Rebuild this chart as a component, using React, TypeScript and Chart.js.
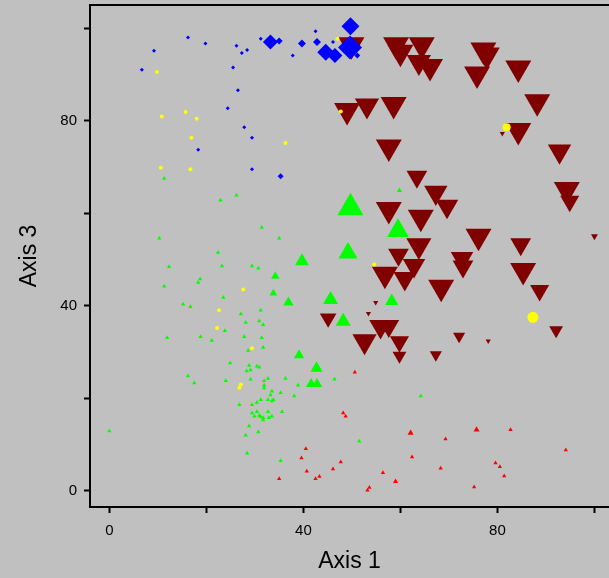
import { useEffect, useRef } from 'react';
import { Chart, registerables } from 'chart.js';

Chart.register(...registerables);

// Axis configuration
const xRange = [-4, 103];
const yRange = [-3.5, 105];
const tickValues = [0, 20, 40, 60, 80, 100];
const labeledTicks = [0, 40, 80];
const xAxisTitle = 'Axis 1';
const yAxisTitle = 'Axis 3';

// Each point: [Axis 1, Axis 3, size]
const bluePoints: [number, number, number][] = [
  [16.2, 98.0, 2], [19.8, 96.7, 2], [9.2, 95.1, 2], [6.7, 91.0, 2], [26.2, 96.2, 2],
  [27.3, 94.6, 2], [28.4, 95.3, 2], [31.2, 97.7, 2], [25.5, 91.5, 2], [26.5, 86.6, 2],
  [24.4, 82.7, 2], [27.8, 78.6, 2], [29.4, 76.3, 2], [18.3, 73.7, 2], [29.4, 69.5, 2],
  [37.8, 94.1, 2], [42.5, 99.3, 2], [46.1, 97.0, 2], [51.1, 94.1, 3], [35.3, 68.0, 3],
  [33.2, 97.0, 7.5], [35.0, 97.2, 3.5], [39.7, 96.7, 4], [42.8, 97.0, 4], [49.7, 100.4, 9],
  [44.6, 94.8, 8.5], [46.5, 94.1, 7.5], [49.6, 95.8, 12],
];

const yellowPoints: [number, number, number][] = [
  [9.8, 90.5, 2], [10.8, 80.9, 2], [15.7, 81.9, 2], [18.0, 80.4, 2], [16.9, 76.3, 2],
  [10.6, 69.8, 2], [16.7, 69.5, 2], [36.3, 75.2, 2], [27.6, 43.5, 2], [22.6, 39.0, 2],
  [22.2, 35.2, 2], [29.4, 30.8, 2], [27.1, 23.0, 2], [26.8, 22.3, 2], [47.0, 97.7, 2],
  [47.7, 82.0, 2], [54.6, 48.9, 2], [81.9, 78.6, 4], [87.3, 37.5, 5.5],
];

const greenPoints: [number, number, number][] = [
  [11.3, 67.5, 2.5], [22.9, 62.8, 2.5], [26.2, 63.9, 2.5], [31.4, 56.9, 2.5], [10.3, 54.6, 2.5],
  [35.0, 54.6, 2.5], [22.4, 51.5, 2.5], [12.3, 48.4, 2.5], [23.2, 48.6, 2.5], [29.4, 48.6, 2.5],
  [30.7, 48.1, 2.5], [18.7, 45.8, 2.5], [18.3, 45.0, 2.5], [11.3, 44.2, 2.5], [23.5, 41.8, 2.5],
  [15.2, 40.3, 2.5], [16.7, 39.8, 2.5], [27.1, 38.2, 2.5], [31.2, 39.0, 2.5], [28.1, 36.4, 2.5],
  [30.9, 36.7, 2.5], [31.7, 35.9, 2.5], [23.8, 34.6, 2.5], [11.9, 33.1, 2.5], [18.8, 33.3, 2.5],
  [21.1, 32.5, 2.5], [27.8, 33.3, 2.5], [31.4, 33.1, 2.5], [31.7, 31.0, 2.5], [28.6, 30.3, 2.5],
  [24.9, 27.6, 2.5], [28.8, 27.1, 2.5], [28.3, 25.9, 2.5], [29.1, 26.1, 2.5], [30.4, 26.9, 2.5],
  [30.9, 26.7, 2.5], [16.2, 24.8, 2.5], [17.5, 23.3, 2.5], [24.0, 23.8, 2.5], [29.1, 24.1, 2.5],
  [31.9, 23.8, 2.5], [32.7, 24.3, 2.5], [36.3, 24.3, 2.5], [31.9, 22.8, 2.5], [31.9, 22.2, 2.5],
  [38.9, 22.8, 2.5], [33.5, 21.5, 2.5], [33.2, 20.7, 2.5], [35.3, 21.2, 2.5], [38.1, 20.5, 2.5],
  [26.8, 18.6, 2.5], [29.4, 18.6, 2.5], [30.4, 19.1, 2.5], [31.2, 19.7, 2.5], [32.7, 19.7, 2.5],
  [33.5, 19.4, 2.5], [33.8, 19.7, 2.5], [29.4, 16.8, 2.5], [30.4, 17.1, 2.5], [29.9, 16.1, 2.5],
  [30.9, 16.3, 2.5], [31.2, 16.0, 2.5], [31.7, 15.8, 2.5], [31.7, 15.3, 2.5], [32.7, 17.1, 2.5],
  [32.9, 15.8, 2.5], [33.5, 16.1, 2.5], [35.6, 17.1, 2.5], [28.8, 14.0, 2.5], [28.1, 12.0, 2.5],
  [30.7, 12.7, 2.5], [28.4, 8.1, 2.5], [35.3, 6.5, 2.5], [0.0, 12.9, 2.5], [46.4, 24.1, 2.5],
  [64.2, 20.5, 2.5], [51.5, 10.7, 2.5], [59.8, 64.9, 3],
  [33.8, 42.7, 4.5], [36.9, 40.7, 6], [39.1, 29.3, 6], [45.6, 41.3, 8.7], [48.2, 36.6, 8.7],
  [58.2, 41.0, 7.7], [42.7, 26.5, 7], [41.6, 23.1, 6], [42.8, 23.1, 6], [49.7, 61.2, 15],
  [59.5, 56.2, 12.5], [49.2, 51.4, 11], [39.7, 49.6, 8], [34.2, 46.4, 5],
];

const redPoints: [number, number, number][] = [
  [35.0, 2.6, 2.5], [39.6, 7.1, 2.5], [40.5, 9.1, 2.5], [40.7, 4.2, 2.5], [42.5, 2.6, 2.5],
  [43.3, 3.1, 2.5], [46.1, 4.7, 2.5], [47.7, 6.2, 2.5], [48.2, 16.8, 2.5], [48.7, 16.1, 2.5],
  [50.6, 25.6, 2.5], [53.2, 0.1, 2.5], [53.6, 0.7, 2.5], [56.4, 3.9, 2.5], [59.0, 2.0, 3],
  [62.1, 12.5, 3.5], [62.4, 7.3, 2.5], [68.3, 4.9, 2.5], [69.3, 11.2, 2.5], [75.2, 0.8, 2.5],
  [75.7, 13.2, 3.5], [79.6, 6.0, 2.5], [80.5, 5.2, 2.5], [81.4, 3.2, 2.5], [82.7, 13.2, 2.5],
  [94.1, 8.8, 2.5],
];

const darkRedPoints: [number, number, number][] = [
  [49.9, 96.4, 15], [59.1, 96.4, 15], [64.4, 96.4, 15], [60.0, 94.8, 15], [63.8, 92.7, 14],
  [66.1, 91.7, 15], [77.1, 95.3, 15], [77.8, 94.2, 15], [75.8, 90.1, 15], [84.3, 91.4, 15],
  [88.2, 84.1, 15], [84.3, 77.9, 15], [49.0, 82.2, 15], [53.1, 83.3, 14], [58.6, 83.5, 15],
  [57.6, 74.3, 15], [63.4, 67.9, 12], [67.3, 64.5, 13.5], [69.6, 61.5, 13], [57.6, 60.8, 15],
  [64.2, 59.1, 15], [92.8, 73.4, 13.5], [94.3, 65.1, 15], [94.9, 62.6, 11], [100.0, 55.0, 4],
  [76.1, 55.0, 15], [84.8, 53.3, 12], [72.7, 50.2, 13], [72.9, 48.5, 12], [85.3, 47.6, 15],
  [88.7, 43.3, 11], [92.1, 34.7, 8], [72.1, 33.4, 7], [78.1, 32.4, 3], [81.0, 77.2, 3],
  [59.6, 51.0, 12], [63.8, 53.0, 14.5], [62.8, 48.7, 13], [60.9, 45.9, 13], [56.8, 46.8, 15],
  [68.4, 44.0, 15], [54.9, 40.7, 3], [53.4, 38.3, 3], [45.1, 37.3, 9.6], [55.9, 35.5, 13],
  [57.6, 35.6, 12], [52.6, 32.3, 14], [59.8, 32.2, 11], [59.8, 29.2, 8], [67.3, 29.4, 7],
];

const FONT = '"Liberation Sans", Arial, Helvetica, sans-serif';

function makeSet(
  label: string,
  pts: [number, number, number][],
  color: string,
  style: string,
  rotation: number,
  order: number,
) {
  return {
    label,
    data: pts.map(([x, y]) => ({ x, y })),
    pointRadius: pts.map((p) => p[2]),
    pointStyle: style,
    rotation,
    pointBackgroundColor: color,
    pointBorderColor: color,
    pointBorderWidth: 0,
    showLine: false,
    order,
  };
}

const topBorder = {
  id: 'topBorder',
  afterDraw(chart: any) {
    const { ctx, chartArea } = chart;
    ctx.save();
    ctx.strokeStyle = '#000';
    ctx.lineWidth = 2;
    ctx.beginPath();
    ctx.moveTo(chartArea.left - 1, chartArea.top);
    ctx.lineTo(chart.width, chartArea.top);
    ctx.stroke();
    ctx.restore();
  },
};

export default function App() {
  const ref = useRef<HTMLCanvasElement>(null);

  useEffect(() => {
    document.body.style.margin = '0';
    document.body.style.background = '#c0c0c0';
    const canvas = ref.current;
    if (!canvas) return;
    const tickCfg = (padding: number) => ({
      autoSkip: false,
      maxRotation: 0,
      padding,
      color: '#000',
      font: { family: FONT, size: 15 },
      callback: (v: any) => (labeledTicks.includes(Number(v)) ? String(v) : ''),
    });
    const gridCfg = {
      drawOnChartArea: false,
      drawTicks: true,
      tickLength: 6,
      tickWidth: 2,
      color: '#000',
      tickColor: '#000',
    };
    const chart = new Chart(canvas, {
      type: 'scatter',
      data: {
        datasets: [
          makeSet('Yellow', yellowPoints, '#ffff00', 'circle', 0, 1),
          makeSet('Blue', bluePoints, '#0000ff', 'rectRot', 0, 2),
          makeSet('Green', greenPoints, '#00ff00', 'triangle', 0, 3),
          makeSet('Red', redPoints, '#ff0000', 'triangle', 0, 4),
          makeSet('Dark red', darkRedPoints, '#800000', 'triangle', 180, 5),
        ] as any,
      },
      options: {
        responsive: false,
        animation: false,
        events: [],
        layout: { autoPadding: false, padding: { top: 5, left: 0, right: 0, bottom: 0 } },
        plugins: { legend: { display: false }, tooltip: { enabled: false } },
        scales: {
          x: {
            type: 'linear',
            min: xRange[0],
            max: xRange[1],
            afterBuildTicks: (s: any) => {
              s.ticks = tickValues.map((v) => ({ value: v }));
            },
            afterFit: (s: any) => {
              s.height = 71;
              s.paddingLeft = 0;
              s.paddingRight = 0;
            },
            grid: gridCfg,
            border: { display: true, color: '#000', width: 2 },
            ticks: tickCfg(9),
            title: {
              display: true,
              text: xAxisTitle,
              color: '#000',
              font: { family: FONT, size: 23 },
              padding: { top: 0, bottom: 3 },
            },
          },
          y: {
            type: 'linear',
            min: yRange[0],
            max: yRange[1],
            afterBuildTicks: (s: any) => {
              s.ticks = tickValues.map((v) => ({ value: v }));
            },
            afterFit: (s: any) => {
              s.width = 90;
              s.paddingTop = 0;
              s.paddingBottom = 0;
            },
            grid: gridCfg,
            border: { display: true, color: '#000', width: 2 },
            ticks: tickCfg(7),
            title: {
              display: true,
              text: yAxisTitle,
              color: '#000',
              font: { family: FONT, size: 23 },
              padding: { top: 16, bottom: 0 },
            },
          },
        },
      } as any,
      plugins: [topBorder],
    });
    return () => chart.destroy();
  }, []);

  return (
    <canvas
      ref={ref}
      width={609}
      height={578}
      style={{ display: 'block', width: 609, height: 578, background: '#c0c0c0' }}
    />
  );
}
